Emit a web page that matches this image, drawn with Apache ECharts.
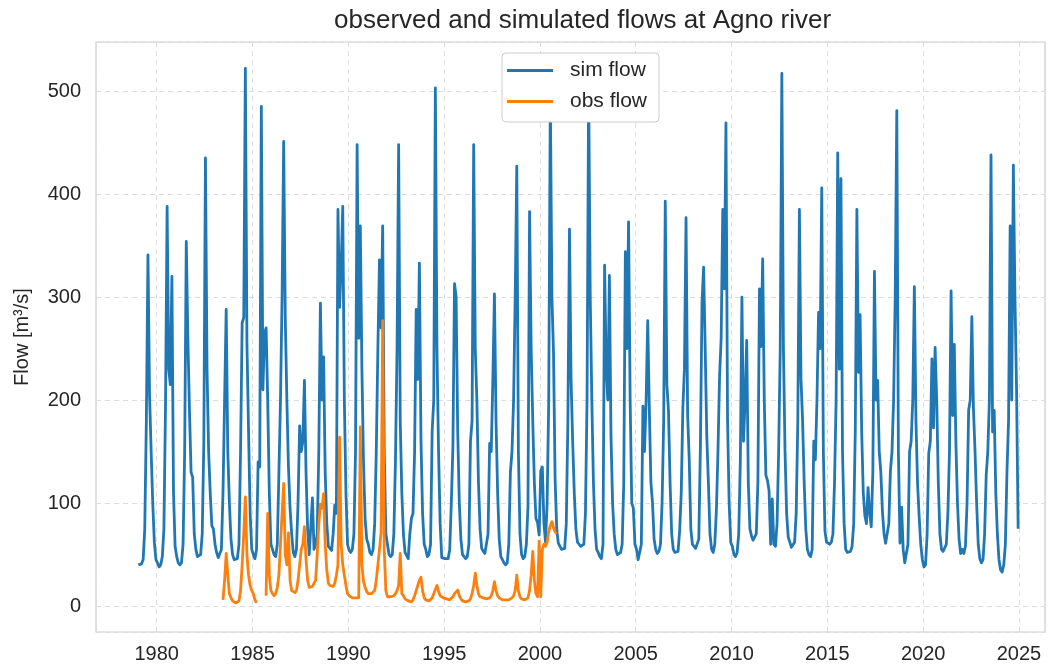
<!DOCTYPE html>
<html>
<head>
<meta charset="utf-8">
<script src="https://cdn.jsdelivr.net/npm/echarts@6/dist/echarts.min.js"></script>
<style>
html,body{margin:0;padding:0;background:#fff;}
#chart{width:1055px;height:668px;}
</style>
</head>
<body>
<div id="chart"></div>
<script>
// ---- data (monthly means, Jan..Dec per row) ----
const titleText = 'observed and simulated flows at Agno river';
const yAxisLabel = 'Flow [m\u00b3/s]';
const seriesNames = ['sim flow', 'obs flow'];
const simStartYear = 1979;
const simFlow = [
  40, 40, 41, 45, 75, 180, 341, 205, 150, 100, 62, 45,      // 1979
  42, 38, 40, 48, 75, 195, 388, 230, 215, 320, 110, 58,     // 1980
  48, 42, 40, 42, 60, 150, 354, 260, 190, 130, 125, 70,     // 1981
  55, 48, 48, 50, 70, 160, 435, 230, 150, 110, 78, 75,      // 1982
  60, 52, 47, 48, 55, 110, 200, 288, 150, 100, 65, 50,      // 1983
  45, 44, 46, 60, 150, 275, 280, 522, 255, 170, 90, 55,     // 1984
  50, 46, 55, 140, 135, 485, 210, 265, 270, 200, 110, 60,   // 1985
  55, 50, 48, 60, 128, 200, 300, 451, 280, 200, 135, 95,    // 1986
  70, 52, 48, 55, 100, 175, 150, 160, 219, 130, 75, 50,     // 1987
  50, 105, 55, 60, 70, 150, 294, 200, 242, 130, 80, 58,     // 1988
  56, 54, 70, 98, 90, 385, 290, 330, 388, 200, 110, 60,     // 1989
  54, 52, 55, 70, 150, 448, 260, 369, 230, 140, 85, 65,     // 1990
  60, 52, 50, 55, 80, 150, 250, 336, 270, 369, 150, 70,     // 1991
  60, 50, 48, 50, 70, 140, 250, 448, 180, 110, 70, 52,      // 1992
  52, 46, 70, 85, 90, 150, 288, 220, 333, 160, 90, 60,      // 1993
  55, 48, 50, 60, 170, 200, 503, 250, 150, 80, 47, 46,      // 1994
  46, 46, 46, 55, 100, 155, 313, 300, 170, 100, 65, 50,     // 1995
  48, 46, 48, 60, 160, 180, 448, 250, 200, 120, 75, 56,     // 1996
  53, 51, 52, 70, 158, 150, 220, 303, 180, 110, 65, 48,     // 1997
  45, 42, 40, 42, 60, 130, 150, 200, 300, 427, 150, 70,     // 1998
  50, 46, 48, 60, 96, 383, 250, 180, 120, 85, 81, 69,       // 1999
  131, 135, 80, 62, 100, 198, 495, 300, 246, 123, 75, 61,   // 2000
  60, 55, 54, 56, 80, 180, 366, 220, 160, 110, 75, 62,      // 2001
  60, 58, 57, 60, 90, 200, 505, 300, 200, 120, 75, 55,      // 2002
  52, 48, 46, 60, 331, 231, 200, 321, 165, 100, 70, 55,     // 2003
  50, 49, 52, 60, 120, 344, 250, 373, 200, 100, 95, 60,     // 2004
  55, 45, 44, 60, 194, 150, 200, 277, 192, 120, 100, 65,    // 2005
  55, 51, 53, 60, 100, 180, 393, 215, 190, 120, 70, 55,     // 2006
  52, 51, 53, 73, 110, 192, 230, 377, 186, 142, 75, 60,     // 2007
  60, 56, 57, 65, 155, 294, 329, 250, 165, 120, 70, 55,     // 2008
  52, 60, 92, 150, 223, 260, 385, 308, 469, 180, 100, 62,   // 2009
  58, 50, 48, 52, 70, 140, 300, 160, 200, 258, 120, 75,     // 2010
  68, 64, 63, 70, 120, 308, 252, 337, 200, 127, 122, 112,   // 2011
  60, 104, 60, 58, 80, 150, 250, 517, 250, 150, 90, 67,     // 2012
  62, 57, 57, 62, 90, 180, 385, 220, 180, 120, 75, 55,      // 2013
  50, 48, 55, 160, 142, 200, 285, 250, 406, 150, 73, 62,    // 2014
  61, 60, 62, 70, 120, 200, 440, 230, 415, 150, 80, 55,     // 2015
  52, 51, 53, 58, 80, 170, 385, 227, 283, 170, 110, 88,     // 2016
  80, 115, 90, 77, 130, 325, 200, 219, 150, 130, 92, 70,    // 2017
  61, 62, 80, 131, 150, 200, 300, 481, 150, 61, 96, 55,     // 2018
  42, 42, 60, 150, 160, 200, 310, 180, 119, 87, 60, 45,     // 2019
  38, 40, 70, 148, 160, 240, 173, 251, 200, 120, 70, 55,    // 2020
  53, 54, 60, 90, 150, 306, 185, 254, 160, 100, 65, 51,     // 2021
  55, 51, 58, 100, 190, 200, 281, 192, 150, 100, 60, 46,    // 2022
  42, 45, 70, 127, 150, 200, 438, 169, 190, 110, 70, 45,    // 2023
  35, 33, 40, 60, 130, 180, 369, 200, 428, 300, 211, 75     // 2024
];
const obsStartYear = 1983;
const obsFlow = [
  null, null, null, null, null, 6, 25, 51, 30, 12, 8, 5,     // 1983
  4, 3, 3, 5, 15, 40, 70, 106, 50, 30, 20, 15,               // 1984
  12, 6, 3, null, null, null, null, null, 10, 90, 30, 15,    // 1985
  12, 10, 12, 18, 30, 60, 90, 119, 50, 40, 71, 25,           // 1986
  15, 14, 13, 15, 25, 40, 55, 60, 77, 45, 25, 18,            // 1987
  19, 19, 20, 25, 50, 80, 99, 95, 109, 60, 35, 22,           // 1988
  20, 19, 19, 22, 30, 40, 164, 60, 40, 30, 20, 12,           // 1989
  10, 9, 8, 8, 8, 8, 8, 174, 40, 24, 18, 14,                 // 1990
  12, 12, 12, 12, 15, 25, 40, 55, 71, 277, 54, 15,           // 1991
  9, 9, 9, 9, 10, 12, 15, 20, 51, 12, 10, 7,                 // 1992
  6, 5, 4, 4, 6, 10, 15, 20, 25, 28, 15, 8,                  // 1993
  6, 5, 5, 6, 8, 12, 16, 20, 14, 10, 9, 8,                   // 1994
  8, 7, 6, 6, 7, 9, 12, 13, 15.5, 10, 7, 5,                  // 1995
  5, 4, 4, 5, 7, 12, 20, 32, 20, 12, 9, 8,                   // 1996
  8, 8, 7, 7, 8, 10, 15, 23.6, 15, 10, 8, 7,                 // 1997
  6, 6, 6, 6, 6, 7, 8, 10, 15, 30, 15, 9,                    // 1998
  7, 6, 6, 6, 8, 15, 30, 53, 25, 12, 9, 63,                  // 1999
  9, 55, 60, 58, 62, 72, 78, 82, 76, 72, 70, null            // 2000
];
const xTickYears = [1980, 1985, 1990, 1995, 2000, 2005, 2010, 2015, 2020, 2025];
const yTicks = [0, 100, 200, 300, 400, 500];

// ---- build (decimal-year, value) pairs from the monthly index ----
function toPairs(values, startYear) {
  return values.map((v, i) => [startYear + (i + 0.5) / 12, v]);
}

const FONT = '"Liberation Sans", Arial, sans-serif';
const TXT = '#262626';
// legend handle: a thin horizontal bar inside a 46x20 box
const LINE_ICON = 'path://M0,0 M0,8.6 L46,8.6 L46,11.4 L0,11.4 Z M46,20';
const chart = echarts.init(document.getElementById('chart'), null, {renderer: 'canvas'});
chart.setOption({
  animation: false,
  backgroundColor: '#ffffff',
  title: {
    text: titleText,
    left: 329, top: 3,
    textStyle: {fontFamily: FONT, fontSize: 26, fontWeight: 'normal', color: TXT}
  },
  legend: {
    orient: 'vertical',
    left: 502, top: 53,
    padding: [7, 12, 10, 5],
    itemWidth: 46, itemHeight: 20, itemGap: 10,
    backgroundColor: '#ffffff',
    borderColor: '#cccccc', borderWidth: 1, borderRadius: 4,
    textStyle: {fontFamily: FONT, fontSize: 21, color: TXT, padding: [0, 0, 0, 12]},
    data: [
      {name: seriesNames[0], icon: LINE_ICON, itemStyle: {color: '#1f77b4'}},
      {name: seriesNames[1], icon: LINE_ICON, itemStyle: {color: '#ff7f0e'}}
    ]
  },
  grid: {
    left: 96, right: 10, top: 42, bottom: 36,
    show: true, borderColor: '#cccccc', borderWidth: 1.2, backgroundColor: '#ffffff'
  },
  xAxis: {
    type: 'value',
    min: 1976.83, max: 2026.36,
    splitNumber: 10, minInterval: 5, maxInterval: 5,
    axisLine: {show: false}, axisTick: {show: false},
    axisLabel: {
      fontFamily: FONT, fontSize: 20, color: TXT, margin: 12,
      showMinLabel: false, showMaxLabel: false,
      formatter: v => (xTickYears.indexOf(Math.round(v)) >= 0 && Math.abs(v - Math.round(v)) < 1e-6) ? String(Math.round(v)) : ''
    },
    splitLine: {show: true, lineStyle: {color: '#dddddd', width: 1, type: [5, 4]}}
  },
  yAxis: {
    type: 'value',
    min: -25.2, max: 547.6,
    splitNumber: 6, minInterval: 100, maxInterval: 100,
    name: yAxisLabel, nameLocation: 'middle', nameGap: 64, nameRotate: 90,
    nameTextStyle: {fontFamily: FONT, fontSize: 20, color: TXT},
    axisLine: {show: false}, axisTick: {show: false},
    axisLabel: {
      fontFamily: FONT, fontSize: 20, color: TXT, margin: 15,
      showMinLabel: false, showMaxLabel: false,
      formatter: v => (yTicks.indexOf(Math.round(v)) >= 0 && Math.abs(v - Math.round(v)) < 1e-6) ? String(Math.round(v)) : ''
    },
    splitLine: {show: true, lineStyle: {color: '#dddddd', width: 1, type: [5, 4]}}
  },
  series: [
    {
      name: seriesNames[0], type: 'line', symbol: 'none', showSymbol: false,
      data: toPairs(simFlow, simStartYear),
      connectNulls: false,
      lineStyle: {color: '#1f77b4', width: 2.8, join: 'round'},
      itemStyle: {color: '#1f77b4'}
    },
    {
      name: seriesNames[1], type: 'line', symbol: 'none', showSymbol: false,
      data: toPairs(obsFlow, obsStartYear),
      connectNulls: false,
      lineStyle: {color: '#ff7f0e', width: 2.8, join: 'round'},
      itemStyle: {color: '#ff7f0e'}
    }
  ]
});
</script>
</body>
</html>
